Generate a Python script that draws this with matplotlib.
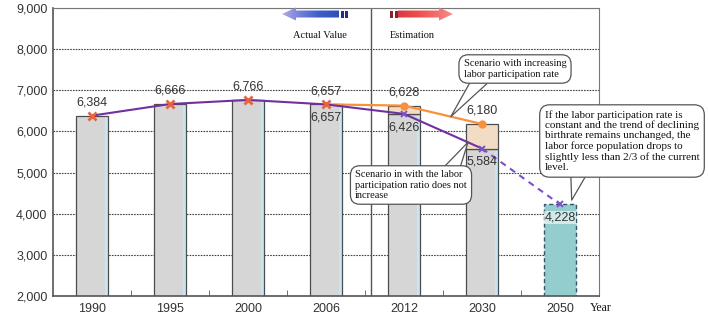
import matplotlib.pyplot as plt
import numpy as np
from matplotlib.patches import Polygon, Rectangle
from matplotlib.colors import LinearSegmentedColormap

# data (labour force, ten-thousand persons)
years = ["1990", "1995", "2000", "2006", "2012", "2030", "2050"]
base_values = [6384, 6666, 6766, 6657, 6426, 5584]            # grey bars
rising_values = [6657, 6628, 6180]                            # 2006, 2012, 2030 (participation rises)
flat_values = [6384, 6666, 6766, 6657, 6426, 5584, 4228]      # participation constant
y_ticks = [2000, 3000, 4000, 5000, 6000, 7000, 8000, 9000]

W, H = 708, 314
SERIF = "Liberation Serif"
SANS = "Liberation Sans"

fig = plt.figure(figsize=(W / 100, H / 100), dpi=100)
ax = fig.add_axes([53 / W, 1 - 296 / H, 546 / W, 288 / H])

x = np.arange(len(years))
bw = 0.42

# bars
ax.bar(x[:6], base_values, width=bw, color="#d6d6d6", lw=0, zorder=2)
ax.bar(x[:6] + bw / 2 - 0.025, base_values, width=0.04, color="#c6e6f3", lw=0, zorder=2.1)
ax.bar(x[:6], base_values, width=bw, fill=False, edgecolor="#4d4d4d", lw=0.9, zorder=2.2)
tan_h = [r - b for r, b in zip(rising_values[1:], base_values[4:6])]
ax.bar(x[4:6], tan_h, bottom=base_values[4:6], width=bw, color="#f3dcc6",
       edgecolor="#4d4d4d", lw=0.9, zorder=2.3)
ax.bar(x[6], flat_values[6], width=bw, color="#93cdcd", edgecolor="#35556a",
       lw=1.0, ls=(0, (3, 2)), zorder=2)

# lines
ax.plot(x[3:6], rising_values, color="#f7923a", lw=1.6, zorder=4)
ax.plot(x[4:6], rising_values[1:], "o", color="#f7923a", ms=5, zorder=5)
ax.plot(x[:6], flat_values[:6], color="#7030a0", lw=1.5, zorder=4)
ax.plot(x[5:7], flat_values[5:7], color="#7a52c8", lw=1.5, ls=(0, (3, 2.5)), zorder=4)
ax.plot(x[:4], flat_values[:4], "x", color="#e8643c", ms=6, mew=2, zorder=5)
ax.plot(x[4:], flat_values[4:], "x", color="#7a52c8", ms=5, mew=1.4, zorder=5)

# actual / estimation divider
ax.axvline(3.58, color="#555555", lw=1, zorder=1.5)


def label(xi, v, dy, **kw):
    ax.annotate(f"{v:,}", (xi, v), xytext=(0, dy), textcoords="offset points",
                ha="center", va="center", fontsize=9, family=SANS,
                color="#333333", zorder=6, **kw)


for i in range(4):
    label(x[i], flat_values[i], 9.5)
label(x[3], flat_values[3], -9.5)
label(x[4], rising_values[1], 9.5)
label(x[4], flat_values[4], -9.5)
label(x[5], rising_values[2], 9.5)
label(x[5], flat_values[5], -9.5)
label(x[6], flat_values[6], -9.5,
      bbox=dict(boxstyle="square,pad=0.05", fc="white", ec="none", alpha=0.6))

# axes styling
ax.set_xlim(-0.5, 6.5)
ax.set_ylim(2000, 9000)
ax.set_yticks(y_ticks)
ax.set_yticklabels([f"{v:,}" for v in y_ticks], family=SANS, fontsize=9, color="#333333")
ax.set_xticks(x)
ax.set_xticklabels(years, family=SANS, fontsize=9, color="#333333")
ax.set_xticks(np.arange(0.5, 6.5, 1), minor=True)
ax.tick_params(axis="both", which="major", length=0)
ax.tick_params(axis="y", pad=4)
ax.tick_params(axis="x", pad=5)
ax.tick_params(axis="x", which="minor", direction="in", length=4, color="#555555")
ax.yaxis.grid(True, ls=(0, (1.5, 1)), color="#444444", lw=0.8)
ax.set_axisbelow(True)
for s in ["left", "bottom"]:
    ax.spines[s].set_color("#555555")
    ax.spines[s].set_linewidth(1.2)
for s in ["top", "right"]:
    ax.spines[s].set_color("#777777")
    ax.spines[s].set_linewidth(0.8)

# callouts
def callout(text, xy, center, relpos, size=7.5):
    ax.annotate(text, xy=xy, xycoords="data", xytext=(center[0], H - center[1]),
                textcoords="figure pixels", ha="center", va="center",
                multialignment="left", fontsize=size, family=SERIF, color="#111111",
                linespacing=1.15, zorder=7,
                bbox=dict(boxstyle="round,pad=0.45,rounding_size=0.9", fc="white",
                          ec="#555555", lw=0.9),
                arrowprops=dict(arrowstyle="wedge,tail_width=1.5,shrink_factor=0.5",
                                fc="white", ec="#555555", lw=0.9, relpos=relpos,
                                patchA=None, shrinkA=0, shrinkB=0))


callout("Scenario with increasing\nlabor participation rate",
        (4.6, np.interp(4.6, x[3:6], rising_values)), (515, 69), (0.17, 0.0))
callout("If the labor participation rate is\nconstant and the trend of declining\n"
        "birthrate remains unchanged, the\nlabor force population drops to\n"
        "slightly less than 2/3 of the current\nlevel.",
        (6.15, 4330), (622, 141), (0.22, 0.0), size=8)
callout("Scenario in with the labor\nparticipation ratio does not\nincrease",
        (4.82, np.interp(4.82, x[4:6], flat_values[4:6])), (411, 185), (0.86, 1.0))

# overlay in pixel coordinates for the arrows and "Year"
ov = fig.add_axes([0, 0, 1, 1], zorder=10)
ov.set_xlim(0, W)
ov.set_ylim(H, 0)
ov.axis("off")


def grad_arrow(poly, x0, x1, colors):
    p = Polygon(poly, closed=True, fc="none", ec="none")
    ov.add_patch(p)
    cmap = LinearSegmentedColormap.from_list("g", colors)
    im = ov.imshow(np.linspace(0, 1, 100)[None, :], cmap=cmap, aspect="auto",
                   extent=(x0, x1, 22, 7), interpolation="bilinear")
    im.set_clip_path(p)


blue = [(282, 14), (296, 7.5), (296, 10.5), (339, 10.5), (339, 17.5), (296, 17.5), (296, 20.5)]
grad_arrow(blue, 282, 339, ["#b4a8e6", "#6f7fd8", "#3c5cc8", "#2f4fb8"])
for sx in (340.5, 345):
    ov.add_patch(Rectangle((sx, 10.5), 3, 7, fc="#22307a", ec="none"))

red = [(453, 14), (439, 7.5), (439, 10.5), (398, 10.5), (398, 17.5), (439, 17.5), (439, 20.5)]
grad_arrow(red, 398, 453, ["#d83a48", "#f04a4a", "#f36a6a", "#f88c8c"])
for sx in (390, 394.5):
    ov.add_patch(Rectangle((sx, 10.5), 3, 7, fc="#8e1f2c", ec="none"))

ov.text(320, 35, "Actual Value", ha="center", va="center", fontsize=7.5, family=SERIF, color="#111111")
ov.text(390, 35, "Estimation", ha="left", va="center", fontsize=7.5, family=SERIF, color="#111111")
ov.text(590, 308, "Year", ha="left", va="center", fontsize=8.5, family=SERIF, color="#111111")

fig.savefig("out.png", dpi=100)
